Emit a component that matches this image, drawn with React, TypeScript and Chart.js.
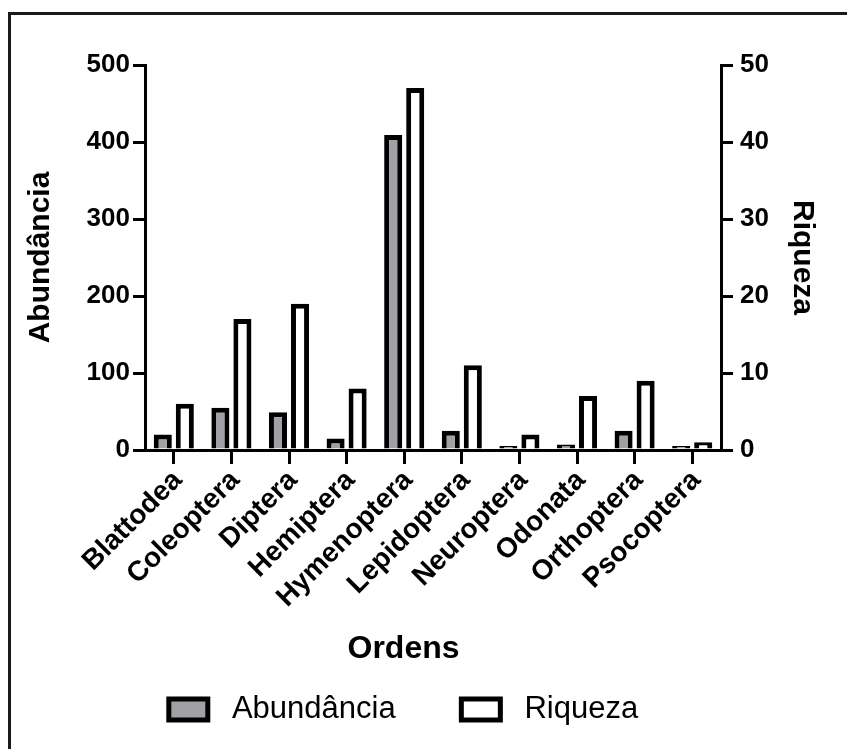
import React, { useEffect, useRef } from 'react';
import { Chart, registerables } from 'chart.js';

Chart.register(...registerables);

const categories = [
  'Blattodea',
  'Coleoptera',
  'Diptera',
  'Hemiptera',
  'Hymenoptera',
  'Lepidoptera',
  'Neuroptera',
  'Odonata',
  'Orthoptera',
  'Psocoptera',
];
const abundancia = [20, 55, 49, 15, 409, 25, 2, 7, 25, 1];
const riqueza = [6, 17, 19, 8, 47, 11, 2, 7, 9, 1];
const abundanciaTicks = [0, 100, 200, 300, 400, 500];
const riquezaTicks = [0, 10, 20, 30, 40, 50];
const seriesNames = ['Abundância', 'Riqueza'];
const xTitle = 'Ordens';

const FONT = '"Liberation Sans", Arial, Helvetica, sans-serif';
const W = 847;
const H = 749;
const AREA = { left: 145, right: 721, top: 65, bottom: 450 };
const PAD_RIGHT = 40;
const PAD_BOTTOM = 14;
const NB = '\u00A0';

export default function App() {
  const ref = useRef<HTMLCanvasElement>(null);

  useEffect(() => {
    const canvas = ref.current;
    if (!canvas) return;
    Chart.defaults.color = '#000';
    Chart.defaults.font.family = FONT;

    const axisGrid = {
      drawOnChartArea: false,
      drawTicks: true,
      tickLength: 12,
      lineWidth: 3,
      color: '#000',
    };
    const axisBorder = { display: true, color: '#000', width: 3 };
    const tickFont = { size: 26, weight: 'bold' as const, family: FONT };
    const titleFont = { size: 30, weight: 'bold' as const, family: FONT };

    const chart = new Chart(canvas, {
      type: 'bar',
      data: {
        labels: categories,
        datasets: [
          {
            label: NB + seriesNames[0] + NB.repeat(6),
            data: abundancia,
            yAxisID: 'y',
            backgroundColor: '#a0a0a5',
            borderColor: '#000',
            borderWidth: 5,
            borderSkipped: 'start',
            minBarLength: 4,
            categoryPercentage: 0.765,
            barPercentage: 0.82,
          },
          {
            label: NB + seriesNames[1],
            data: riqueza,
            yAxisID: 'y1',
            backgroundColor: '#ffffff',
            borderColor: '#000',
            borderWidth: 5,
            borderSkipped: 'start',
            minBarLength: 4,
            categoryPercentage: 0.765,
            barPercentage: 0.82,
          },
        ],
      },
      options: {
        responsive: false,
        animation: false,
        layout: {
          padding: { top: AREA.top, left: 0, right: PAD_RIGHT, bottom: PAD_BOTTOM },
        },
        plugins: {
          legend: {
            position: 'bottom',
            labels: {
              font: { size: 31, family: FONT },
              boxWidth: 39,
              boxHeight: 21,
              padding: 14,
              color: '#000',
            },
          },
          title: {
            display: true,
            text: xTitle,
            position: 'bottom',
            weight: 500,
            font: { size: 32, weight: 'bold', family: FONT },
            color: '#000',
            padding: { top: 0, bottom: 12 },
          },
          tooltip: { enabled: false },
        },
        scales: {
          x: {
            grid: { ...axisGrid, offset: false, tickLength: 14 },
            border: axisBorder,
            ticks: {
              autoSkip: false,
              maxRotation: 45,
              minRotation: 45,
              font: { size: 28, weight: 'bold', family: FONT },
              color: '#000',
              padding: 0,
              labelOffset: 4,
            },
            afterFit: (s: any) => {
              const c = s.chart;
              const lh = c.legend ? c.legend.height : 0;
              const th = c.titleBlock ? c.titleBlock.height : 0;
              s.height = H - PAD_BOTTOM - lh - th - AREA.bottom;
            },
          },
          y: {
            position: 'left',
            min: abundanciaTicks[0],
            max: abundanciaTicks[abundanciaTicks.length - 1],
            grid: axisGrid,
            border: axisBorder,
            ticks: {
              stepSize: abundanciaTicks[1] - abundanciaTicks[0],
              font: tickFont,
              color: '#000',
              padding: 3,
            },
            title: {
              display: true,
              text: seriesNames[0],
              font: titleFont,
              color: '#000',
              padding: { top: 23, bottom: 0 },
            },
            afterFit: (s: any) => {
              s.width = AREA.left;
            },
          },
          y1: {
            position: 'right',
            min: riquezaTicks[0],
            max: riquezaTicks[riquezaTicks.length - 1],
            grid: axisGrid,
            border: axisBorder,
            ticks: {
              stepSize: riquezaTicks[1] - riquezaTicks[0],
              font: tickFont,
              color: '#000',
              padding: 7,
            },
            title: {
              display: true,
              text: seriesNames[1],
              font: titleFont,
              color: '#000',
              padding: { top: -13, bottom: 0 },
            },
            afterFit: (s: any) => {
              s.width = W - PAD_RIGHT - AREA.right;
            },
          },
        },
      },
    } as any);

    return () => chart.destroy();
  }, []);

  return (
    <div style={{ position: 'fixed', left: 0, top: 0, width: W, height: H, background: '#fff', overflow: 'hidden' }}>
      <canvas ref={ref} width={W} height={H} style={{ position: 'absolute', left: 0, top: 0, display: 'block' }} />
      <div
        style={{
          position: 'absolute',
          left: 8,
          top: 12,
          width: W - 8,
          height: H - 12,
          borderLeft: '3px solid #1a1a1a',
          borderTop: '3px solid #1a1a1a',
          boxSizing: 'border-box',
          pointerEvents: 'none',
        }}
      />
    </div>
  );
}
